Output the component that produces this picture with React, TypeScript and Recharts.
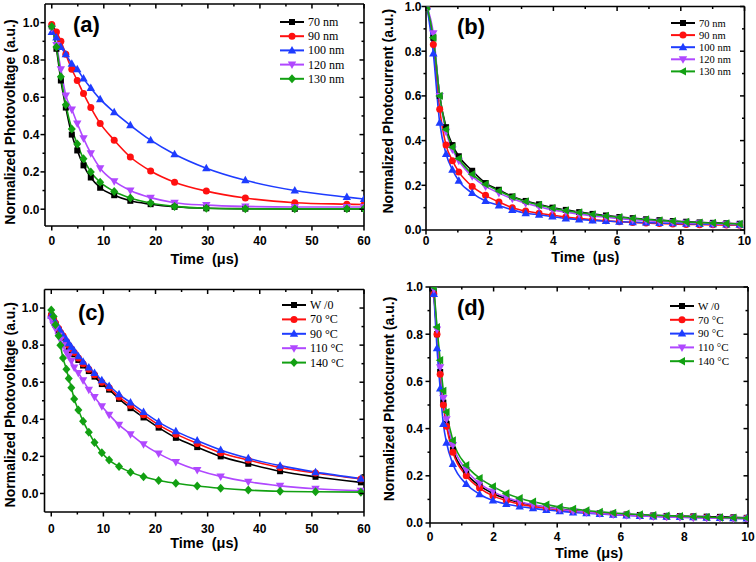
import React from "react"
import { LineChart, Line, XAxis, YAxis, Legend } from "recharts"

// ---- panel (a): photovoltage vs. film thickness
const timeA = [0, 0.9, 1.75, 2.7, 3.85, 4.9, 6.1, 7.5, 9.3, 12, 15.1, 19, 23.6, 29.7, 37.2, 46.7, 56.7, 60]
const a70 = [0.98, 0.86, 0.69, 0.545, 0.4, 0.315, 0.235, 0.17, 0.115, 0.075, 0.045, 0.027, 0.013, 0.005, 0.003, 0.002, 0.002, 0.002]
const a90 = [0.99, 0.95, 0.9, 0.83, 0.75, 0.69, 0.62, 0.545, 0.46, 0.37, 0.28, 0.205, 0.145, 0.097, 0.06, 0.035, 0.027, 0.025]
const a100 = [0.95, 0.92, 0.87, 0.83, 0.78, 0.75, 0.7, 0.65, 0.59, 0.52, 0.45, 0.37, 0.295, 0.22, 0.155, 0.1, 0.065, 0.055]
const a120 = [0.97, 0.88, 0.75, 0.61, 0.535, 0.46, 0.38, 0.3, 0.22, 0.15, 0.1, 0.062, 0.035, 0.022, 0.015, 0.012, 0.012, 0.012]
const a130 = [0.98, 0.87, 0.71, 0.56, 0.43, 0.35, 0.27, 0.2, 0.145, 0.095, 0.06, 0.033, 0.015, 0.005, 0.002, 0.002, 0.002, 0.002]

// ---- panel (b): photocurrent vs. film thickness
const timeB = [0.03, 0.23, 0.43, 0.63, 0.83, 1.03, 1.45, 1.87, 2.29, 2.71, 3.13, 3.55, 3.97, 4.39, 4.81, 5.23, 5.65, 6.07, 6.49, 6.91, 7.33, 7.75, 8.17, 8.59, 9.01, 9.43, 9.85]
const b70 = [1.0, 0.86, 0.6, 0.46, 0.38, 0.33, 0.265, 0.21, 0.18, 0.15, 0.13, 0.115, 0.1, 0.09, 0.08, 0.072, 0.065, 0.058, 0.053, 0.048, 0.044, 0.04, 0.037, 0.034, 0.032, 0.03, 0.028]
const b90 = [1.0, 0.83, 0.54, 0.38, 0.31, 0.26, 0.195, 0.155, 0.125, 0.1, 0.085, 0.075, 0.066, 0.058, 0.052, 0.046, 0.041, 0.037, 0.034, 0.031, 0.029, 0.027, 0.025, 0.024, 0.023, 0.022, 0.021]
const b100 = [1.0, 0.79, 0.48, 0.34, 0.27, 0.22, 0.165, 0.13, 0.11, 0.09, 0.075, 0.068, 0.06, 0.052, 0.047, 0.043, 0.04, 0.037, 0.035, 0.033, 0.031, 0.03, 0.028, 0.027, 0.026, 0.025, 0.024]
const b120 = [1.0, 0.88, 0.6, 0.44, 0.36, 0.31, 0.24, 0.195, 0.165, 0.14, 0.12, 0.104, 0.09, 0.08, 0.071, 0.063, 0.057, 0.051, 0.046, 0.042, 0.038, 0.035, 0.032, 0.03, 0.028, 0.026, 0.024]
const b130 = [1.0, 0.86, 0.6, 0.45, 0.37, 0.32, 0.25, 0.205, 0.175, 0.148, 0.128, 0.112, 0.098, 0.087, 0.078, 0.07, 0.063, 0.057, 0.052, 0.047, 0.043, 0.039, 0.036, 0.033, 0.031, 0.029, 0.027]

// ---- panel (c): photovoltage vs. annealing temperature
const timeC = [0, 0.45, 0.8, 1.4, 1.75, 2.25, 2.9, 3.35, 3.85, 4.4, 5.2, 6.1, 7.2, 8.3, 9.7, 11.1, 13.0, 15.2, 17.7, 20.6, 23.9, 28.0, 32.5, 37.8, 43.9, 50.7, 59.4]
const cWo = [0.96, 0.93, 0.91, 0.88, 0.86, 0.84, 0.81, 0.79, 0.77, 0.75, 0.72, 0.69, 0.66, 0.63, 0.59, 0.56, 0.51, 0.46, 0.41, 0.355, 0.3, 0.25, 0.2, 0.16, 0.12, 0.09, 0.06]
const c70 = [0.96, 0.94, 0.92, 0.89, 0.87, 0.85, 0.82, 0.8, 0.78, 0.76, 0.73, 0.7, 0.67, 0.64, 0.6, 0.57, 0.52, 0.475, 0.425, 0.37, 0.32, 0.27, 0.22, 0.18, 0.14, 0.11, 0.078]
const c90 = [0.96, 0.94, 0.92, 0.895, 0.875, 0.855, 0.83, 0.81, 0.79, 0.77, 0.74, 0.71, 0.68, 0.65, 0.61, 0.58, 0.535, 0.49, 0.44, 0.385, 0.335, 0.285, 0.235, 0.19, 0.15, 0.115, 0.08]
const c110 = [0.94, 0.91, 0.89, 0.85, 0.83, 0.8, 0.76, 0.74, 0.715, 0.68, 0.65, 0.61, 0.56, 0.52, 0.47, 0.425, 0.37, 0.32, 0.265, 0.215, 0.17, 0.127, 0.092, 0.063, 0.041, 0.025, 0.014]
const c140 = [0.99, 0.955, 0.91, 0.85, 0.8, 0.73, 0.67, 0.62, 0.57, 0.51, 0.45, 0.39, 0.33, 0.275, 0.22, 0.18, 0.145, 0.115, 0.09, 0.07, 0.055, 0.04, 0.028, 0.018, 0.012, 0.009, 0.007]

// ---- panel (d): photocurrent vs. annealing temperature
const timeD = [0.12, 0.22, 0.32, 0.42, 0.52, 0.72, 1.14, 1.56, 1.98, 2.4, 2.82, 3.24, 3.66, 4.08, 4.5, 4.92, 5.34, 5.76, 6.18, 6.6, 7.02, 7.44, 7.86, 8.28, 8.7, 9.12, 9.54, 9.96]
const dWo = [0.98, 0.8, 0.64, 0.51, 0.42, 0.31, 0.21, 0.158, 0.125, 0.103, 0.087, 0.076, 0.067, 0.059, 0.052, 0.047, 0.042, 0.039, 0.036, 0.034, 0.032, 0.03, 0.029, 0.028, 0.027, 0.026, 0.024, 0.022]
const d70 = [0.97, 0.8, 0.63, 0.5, 0.41, 0.3, 0.2, 0.148, 0.115, 0.095, 0.08, 0.07, 0.062, 0.055, 0.049, 0.044, 0.04, 0.037, 0.034, 0.031, 0.029, 0.027, 0.026, 0.025, 0.023, 0.022, 0.021, 0.02]
const d90 = [0.97, 0.74, 0.57, 0.42, 0.34, 0.25, 0.165, 0.122, 0.095, 0.08, 0.07, 0.062, 0.055, 0.05, 0.045, 0.041, 0.038, 0.035, 0.032, 0.03, 0.028, 0.026, 0.025, 0.024, 0.022, 0.021, 0.02, 0.019]
const d110 = [0.99, 0.82, 0.66, 0.53, 0.44, 0.33, 0.225, 0.168, 0.133, 0.108, 0.09, 0.077, 0.067, 0.058, 0.051, 0.045, 0.04, 0.036, 0.033, 0.03, 0.028, 0.026, 0.024, 0.022, 0.021, 0.02, 0.019, 0.018]
const d140 = [1.0, 0.83, 0.69, 0.56, 0.47, 0.35, 0.245, 0.19, 0.155, 0.125, 0.105, 0.09, 0.078, 0.068, 0.06, 0.053, 0.047, 0.043, 0.039, 0.036, 0.033, 0.031, 0.029, 0.027, 0.025, 0.023, 0.022, 0.021]

// ---- axis ticks
const ticks60 = [0, 5, 10, 15, 20, 25, 30, 35, 40, 45, 50, 55, 60]
const major60 = [0, 10, 20, 30, 40, 50, 60]
const ticks10 = [0, 1, 2, 3, 4, 5, 6, 7, 8, 9, 10]
const major10 = [0, 2, 4, 6, 8, 10]
const ticksY = [0, 0.1, 0.2, 0.3, 0.4, 0.5, 0.6, 0.7, 0.8, 0.9, 1.0]
const majorY = [0, 0.2, 0.4, 0.6, 0.8, 1.0]

const BLACK = "#000000"
const RED = "#ff1010"
const BLUE = "#1e3cff"
const PURPLE = "#b048ff"
const GREEN = "#12a012"

type Shape = "square" | "circle" | "up" | "down" | "diamond" | "left"
type Series = { key: string; name: string; color: string; shape: Shape; values: number[] }

const seriesA: Series[] = [
  { key: "s70", name: "70 nm", color: BLACK, shape: "square", values: a70 },
  { key: "s90", name: "90 nm", color: RED, shape: "circle", values: a90 },
  { key: "s100", name: "100 nm", color: BLUE, shape: "up", values: a100 },
  { key: "s120", name: "120 nm", color: PURPLE, shape: "down", values: a120 },
  { key: "s130", name: "130 nm", color: GREEN, shape: "diamond", values: a130 },
]
const seriesB: Series[] = [
  { key: "s70", name: "70 nm", color: BLACK, shape: "square", values: b70 },
  { key: "s90", name: "90 nm", color: RED, shape: "circle", values: b90 },
  { key: "s100", name: "100 nm", color: BLUE, shape: "up", values: b100 },
  { key: "s120", name: "120 nm", color: PURPLE, shape: "down", values: b120 },
  { key: "s130", name: "130 nm", color: GREEN, shape: "left", values: b130 },
]
const seriesC: Series[] = [
  { key: "wo", name: "W /0", color: BLACK, shape: "square", values: cWo },
  { key: "t70", name: "70 °C", color: RED, shape: "circle", values: c70 },
  { key: "t90", name: "90 °C", color: BLUE, shape: "up", values: c90 },
  { key: "t110", name: "110 °C", color: PURPLE, shape: "down", values: c110 },
  { key: "t140", name: "140 °C", color: GREEN, shape: "diamond", values: c140 },
]
const seriesD: Series[] = [
  { key: "wo", name: "W /0", color: BLACK, shape: "square", values: dWo },
  { key: "t70", name: "70 °C", color: RED, shape: "circle", values: d70 },
  { key: "t90", name: "90 °C", color: BLUE, shape: "up", values: d90 },
  { key: "t110", name: "110 °C", color: PURPLE, shape: "down", values: d110 },
  { key: "t140", name: "140 °C", color: GREEN, shape: "left", values: d140 },
]

const SANS = "'Liberation Sans', Arial, sans-serif"
const SERIF = "'Liberation Serif', 'Times New Roman', serif"
const AXIS = { stroke: "#000", strokeWidth: 1.6 }

function Marker({ cx, cy, shape, color }: { cx?: number; cy?: number; shape: Shape; color: string }) {
  if (cx == null || cy == null || isNaN(cx) || isNaN(cy)) return null
  switch (shape) {
    case "square":
      return <rect x={cx - 3} y={cy - 3} width={6} height={6} fill={color} />
    case "circle":
      return <circle cx={cx} cy={cy} r={3.5} fill={color} />
    case "up":
      return <polygon points={`${cx},${cy - 4.5} ${cx + 4.2},${cy + 3} ${cx - 4.2},${cy + 3}`} fill={color} />
    case "down":
      return <polygon points={`${cx},${cy + 4.5} ${cx + 4.2},${cy - 3} ${cx - 4.2},${cy - 3}`} fill={color} />
    case "diamond":
      return <polygon points={`${cx},${cy - 4.5} ${cx + 4},${cy} ${cx},${cy + 4.5} ${cx - 4},${cy}`} fill={color} />
    case "left":
      return <polygon points={`${cx - 4.5},${cy} ${cx + 3},${cy - 4.2} ${cx + 3},${cy + 4.2}`} fill={color} />
  }
  return null
}

type Side = "bottom" | "top" | "left" | "right"

function makeTick(side: Side, majors: number[], fmt: (v: number) => string, off: number) {
  return (props: any) => {
    const { x, y, payload } = props
    const v = payload.value as number
    const major = majors.some((m) => Math.abs(m - v) < 1e-6)
    const len = major ? 4.5 : 2.5
    const txt = { fontFamily: SANS, fontWeight: 700, fontSize: 12, fill: "#000" }
    if (side === "bottom")
      return (
        <g>
          <line x1={x} x2={x} y1={y} y2={y + len} stroke="#000" strokeWidth={1.5} />
          {major && <text x={x} y={y + off} textAnchor="middle" style={txt}>{fmt(v)}</text>}
        </g>
      )
    if (side === "left")
      return (
        <g>
          <line x1={x} x2={x - len} y1={y} y2={y} stroke="#000" strokeWidth={1.5} />
          {major && <text x={x - off} y={y + 4.3} textAnchor="end" style={txt}>{fmt(v)}</text>}
        </g>
      )
    if (side === "top") return <line x1={x} x2={x} y1={y} y2={y + len} stroke="#000" strokeWidth={1.5} />
    return <line x1={x} x2={x - len} y1={y} y2={y} stroke="#000" strokeWidth={1.5} />
  }
}

const fmtX = (v: number) => String(v)
const fmtY = (v: number) => v.toFixed(1)

type PanelProps = {
  left: number
  top: number
  time: number[]
  series: Series[]
  xDomain: [number, number]
  xTicks: number[]
  xMajors: number[]
  yDomain: [number, number]
  margin: { top: number; right: number; left: number; bottom: number }
  yAxisWidth: number
  xAxisHeight: number
  xTickOff: number
  yTickOff: number
  xLabelOffset: number
  yLabel: string
  yLabelX: number
  yLabelDy: number
  tag: string
  tagX: number
  tagY: number
  legendX: number
  legendY: number
  legendGap: number
  legendFont: number
}

function Panel(p: PanelProps) {
  const data = p.time.map((t, i) => {
    const row: Record<string, number> = { t }
    p.series.forEach((s) => (row[s.key] = s.values[i]))
    return row
  })
  const legendH = p.legendGap * 4 + 16
  const renderLegend = () => (
    <svg width={110} height={legendH} style={{ display: "block", overflow: "visible" }}>
      {p.series.map((s, i) => {
        const y = 7 + i * p.legendGap
        return (
          <g key={s.key}>
            <line x1={0} x2={24} y1={y} y2={y} stroke={s.color} strokeWidth={2} />
            <Marker cx={12} cy={y} shape={s.shape} color={s.color} />
            <text x={28} y={y + p.legendFont * 0.34} style={{ fontFamily: SERIF, fontSize: p.legendFont, fill: "#000" }}>
              {s.name}
            </text>
          </g>
        )
      })}
    </svg>
  )
  return (
    <div style={{ position: "absolute", left: p.left, top: p.top, width: 378, height: 281 }}>
      <LineChart width={378} height={281} data={data} margin={p.margin}>
        <XAxis
          dataKey="t"
          type="number"
          domain={p.xDomain}
          ticks={p.xTicks}
          interval={0}
          allowDataOverflow
          tickSize={0}
          tickMargin={0}
          tickLine={false}
          axisLine={AXIS}
          height={p.xAxisHeight}
          tick={makeTick("bottom", p.xMajors, fmtX, p.xTickOff)}
          label={{
            value: "Time\u00a0 (\u03bcs)",
            position: "insideBottom",
            offset: p.xLabelOffset,
            style: { fontFamily: SANS, fontWeight: 700, fontSize: 14.5, fill: "#000" },
          }}
        />
        <XAxis
          xAxisId="top"
          orientation="top"
          dataKey="t"
          type="number"
          domain={p.xDomain}
          ticks={p.xTicks}
          interval={0}
          allowDataOverflow
          tickSize={0}
          tickMargin={0}
          tickLine={false}
          axisLine={AXIS}
          height={1}
          tick={makeTick("top", p.xMajors, fmtX, 0)}
        />
        <YAxis
          type="number"
          domain={p.yDomain}
          ticks={ticksY}
          interval={0}
          allowDataOverflow
          tickSize={0}
          tickMargin={0}
          tickLine={false}
          axisLine={AXIS}
          width={p.yAxisWidth}
          tick={makeTick("left", majorY, fmtY, p.yTickOff)}
          label={{
            value: p.yLabel,
            angle: -90,
            position: "insideLeft",
            offset: p.yLabelX,
            dy: p.yLabelDy,
            style: { textAnchor: "middle", fontFamily: SANS, fontWeight: 700, fontSize: 14, fill: "#000" },
          }}
        />
        <YAxis
          yAxisId="right"
          orientation="right"
          type="number"
          domain={p.yDomain}
          ticks={ticksY}
          interval={0}
          allowDataOverflow
          tickSize={0}
          tickMargin={0}
          tickLine={false}
          axisLine={AXIS}
          width={1}
          tick={makeTick("right", majorY, fmtY, 0)}
        />
        <Legend
          layout="vertical"
          align="center"
          verticalAlign="middle"
          content={renderLegend}
          wrapperStyle={{ left: p.legendX, top: p.legendY - 7, width: 110, height: legendH }}
        />
        {p.series.map((s) => (
          <Line
            key={s.key}
            dataKey={s.key}
            name={s.name}
            type="monotone"
            stroke={s.color}
            strokeWidth={1.6}
            activeDot={false}
            isAnimationActive={false}
            dot={(d: any) => <Marker key={`${s.key}-${d.index}`} cx={d.cx} cy={d.cy} shape={s.shape} color={s.color} />}
          />
        ))}
      </LineChart>
      <div
        style={{
          position: "absolute",
          left: p.tagX,
          top: p.tagY - 12,
          fontFamily: SANS,
          fontWeight: 700,
          fontSize: 22,
          lineHeight: "24px",
          color: "#000",
        }}
      >
        {p.tag}
      </div>
    </div>
  )
}

export default function App() {
  return (
    <div style={{ position: "absolute", left: 0, top: 0, width: 756, height: 562, background: "#fff" }}>
      <Panel
        left={0}
        top={0}
        time={timeA}
        series={seriesA}
        xDomain={[-1.3, 60]}
        xTicks={ticks60}
        xMajors={major60}
        yDomain={[-0.09, 1.1]}
        margin={{ top: 3, right: 13, left: 0, bottom: 0 }}
        yAxisWidth={45}
        xAxisHeight={55}
        xTickOff={18.5}
        yTickOff={5.5}
        xLabelOffset={17}
        yLabel="Normalized Photovoltage (a.u.)"
        yLabelX={10.5}
        yLabelDy={7}
        tag="(a)"
        tagX={73}
        tagY={25}
        legendX={280}
        legendY={21.7}
        legendGap={14.2}
        legendFont={12}
      />
      <Panel
        left={378}
        top={0}
        time={timeB}
        series={seriesB}
        xDomain={[0, 10]}
        xTicks={ticks10}
        xMajors={major10}
        yDomain={[0, 1]}
        margin={{ top: 5.5, right: 10.5, left: 0, bottom: 0 }}
        yAxisWidth={48}
        xAxisHeight={51}
        xTickOff={14.5}
        yTickOff={4.5}
        xLabelOffset={19}
        yLabel="Normalized Photocurrent (a.u.)"
        yLabelX={10}
        yLabelDy={-7}
        tag="(b)"
        tagX={79}
        tagY={27}
        legendX={292.7}
        legendY={23.3}
        legendGap={12.1}
        legendFont={10.5}
      />
      <Panel
        left={0}
        top={281}
        time={timeC}
        series={seriesC}
        xDomain={[-1.3, 60]}
        xTicks={ticks60}
        xMajors={major60}
        yDomain={[-0.1, 1.1]}
        margin={{ top: 7.5, right: 13, left: 0, bottom: 0 }}
        yAxisWidth={44.5}
        xAxisHeight={50}
        xTickOff={21}
        yTickOff={6}
        xLabelOffset={14.5}
        yLabel="Normalized Photovoltage (a.u.)"
        yLabelX={10}
        yLabelDy={4}
        tag="(c)"
        tagX={78}
        tagY={32}
        legendX={281.7}
        legendY={24.3}
        legendGap={14.4}
        legendFont={12}
      />
      <Panel
        left={378}
        top={281}
        time={timeD}
        series={seriesD}
        xDomain={[0, 10]}
        xTicks={ticks10}
        xMajors={major10}
        yDomain={[0, 1]}
        margin={{ top: 5, right: 7, left: 0, bottom: 0 }}
        yAxisWidth={52}
        xAxisHeight={39}
        xTickOff={17.5}
        yTickOff={7}
        xLabelOffset={4}
        yLabel="Normalized Photocurrent (a.u.)"
        yLabelX={10.7}
        yLabelDy={-6}
        tag="(d)"
        tagX={79}
        tagY={27}
        legendX={291.7}
        legendY={25}
        legendGap={13.8}
        legendFont={11}
      />
    </div>
  )
}
